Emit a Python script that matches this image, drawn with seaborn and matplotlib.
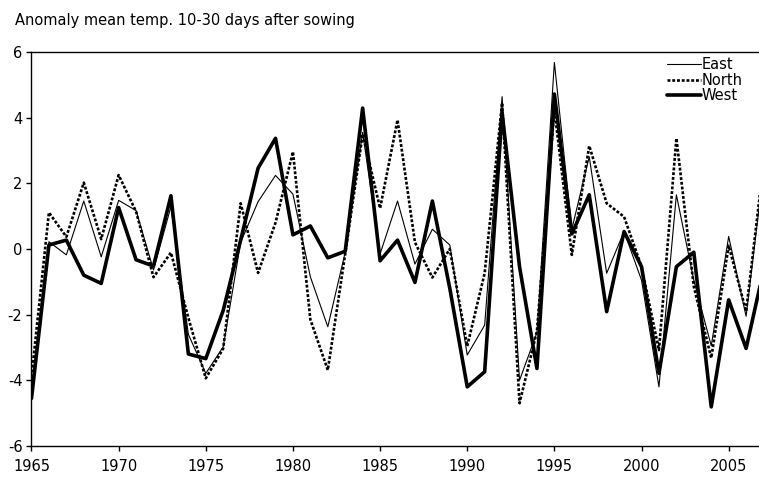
import pandas as pd
import matplotlib
matplotlib.use('Agg')
import matplotlib.pyplot as plt
import seaborn as sns

sns.set_style('ticks')
plt.rcParams['font.family'] = ['DejaVu Sans']
plt.rcParams['axes.unicode_minus'] = False
plt.rcParams['text.color'] = 'black'
plt.rcParams['xtick.color'] = 'black'
plt.rcParams['ytick.color'] = 'black'

# ------------------------------------------------------------
# data
# ------------------------------------------------------------
years = list(range(1965, 2008))

east = [-4.3, 0.22, -0.18, 1.46, -0.24, 1.48, 1.17, -0.64, 1.29, -2.6,
        -3.79, -2.98, 0.2, 1.44, 2.24, 1.67, -0.85, -2.37, -0.1, 3.55,
        -0.15, 1.46, -0.46, 0.6, 0.12, -3.23, -2.32, 4.64, -4.0, -2.55,
        5.68, 0.6, 2.81, -0.74, 0.53, -0.95, -4.2, 1.65, -0.95, -2.95,
        0.38, -2.05, 2.4]

north = [-3.9, 1.11, 0.37, 2.02, 0.3, 2.25, 1.14, -0.86, -0.11, -2.1,
         -3.94, -3.03, 1.39, -0.73, 0.8, 2.96, -2.15, -3.69, -0.15, 3.5,
         1.24, 3.93, 0.2, -0.87, 0.0, -2.96, -0.74, 4.45, -4.7, -2.5,
         4.25, -0.18, 3.14, 1.39, 0.98, -0.54, -3.08, 3.37, -1.15, -3.32,
         0.1, -1.9, 2.6]

west = [-4.55, 0.12, 0.27, -0.8, -1.05, 1.26, -0.33, -0.52, 1.62, -3.2,
        -3.34, -1.87, 0.27, 2.46, 3.37, 0.43, 0.70, -0.27, -0.07, 4.29,
        -0.36, 0.27, -1.02, 1.46, -1.2, -4.2, -3.74, 4.15, -0.54, -3.64,
        4.72, 0.46, 1.65, -1.91, 0.53, -0.54, -3.79, -0.54, -0.1, -4.81,
        -1.55, -3.03, -0.65]

df = pd.DataFrame({'year': years, 'East': east, 'North': north, 'West': west})

# ------------------------------------------------------------
# plot
# ------------------------------------------------------------
fig = plt.figure(figsize=(7.59, 4.79), dpi=100)
ax = fig.add_axes([0.0415, 0.069, 0.9585, 0.8225])

sns.lineplot(data=df, x='year', y='East', ax=ax, color='black', lw=0.8, label='East')
sns.lineplot(data=df, x='year', y='North', ax=ax, color='black', lw=1.9,
             linestyle=(0, (1.1, 0.7)), label='North')
sns.lineplot(data=df, x='year', y='West', ax=ax, color='black', lw=2.6, label='West')

ax.set_xlim(1965, 2006.74)
ax.set_ylim(-6, 6)
ax.set_xticks(range(1965, 2006, 5))
ax.set_yticks(range(-6, 7, 2))
ax.set_xlabel('')
ax.set_ylabel('')

for side in ['left', 'bottom', 'top']:
    ax.spines[side].set_color('black')
    ax.spines[side].set_linewidth(1.0)
ax.spines['right'].set_visible(False)

ax.tick_params(axis='both', colors='black', labelsize=10.5, width=1.0, length=3.5)
ax.tick_params(axis='x', pad=6)
ax.tick_params(axis='y', pad=3)

fig.text(15 / 759, 1 - 20 / 479, 'Anomaly mean temp. 10-30 days after sowing',
         fontsize=10.5, va='center', ha='left', color='black')

leg = ax.legend(loc='upper left', bbox_to_anchor=(667 / 759, 1 - 57 / 479),
                bbox_transform=fig.transFigure, frameon=False, fontsize=10.5,
                handlelength=2.3, handletextpad=0.1, labelspacing=0.05,
                borderpad=0, borderaxespad=0)
for t in leg.get_texts():
    t.set_color('black')

fig.savefig('out.png', dpi=100)
plt.close(fig)
